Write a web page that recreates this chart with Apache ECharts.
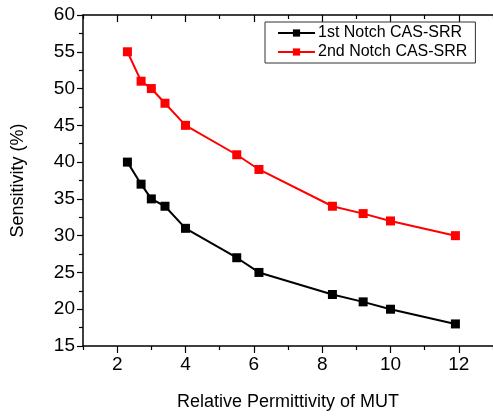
<!DOCTYPE html>
<html>
<head>
<meta charset="utf-8">
<script src="https://cdn.jsdelivr.net/npm/echarts@6/dist/echarts.min.js"></script>
<style>
  html, body { margin: 0; padding: 0; background: #fff; }
  #chart { width: 493px; height: 416px; }
</style>
</head>
<body>
<div id="chart"></div>
<script>
// Relative permittivity of the material under test
var permittivity = [2.3, 2.7, 3.0, 3.4, 4.0, 5.5, 6.15, 8.3, 9.2, 10.0, 11.9];
// Sensitivity (%) for each notch
var notch1 = [40, 37, 35, 34, 31, 27, 25, 22, 21, 20, 18];
var notch2 = [55, 51, 50, 48, 45, 41, 39, 34, 33, 32, 30];
var seriesNames = ['1st Notch CAS-SRR', '2nd Notch CAS-SRR'];
var xTickLabels = [2, 4, 6, 8, 10, 12];

function pairs(xs, ys) {
  return xs.map(function (x, i) { return [x, ys[i]]; });
}

var font = 'Liberation Sans, Arial, sans-serif';
var chart = echarts.init(document.getElementById('chart'));

// The x range starts at 1, so the interval-2 ticks fall on odd values (drawn short)
// and the minor ticks fall on the even, labelled values (drawn long).
function xAxisBase(pos, inside) {
  return {
    type: 'value',
    min: 1, max: 13, interval: 2,
    position: pos,
    axisLine: { show: true, lineStyle: { color: '#000', width: 1.5 } },
    axisTick: { inside: inside, length: 4, lineStyle: { color: '#000', width: 1.2 } },
    minorTick: { show: true, splitNumber: 2, length: 7, lineStyle: { color: '#000', width: 1.2 } },
    splitLine: { show: false }
  };
}

var bottomAxis = xAxisBase('bottom', false);
bottomAxis.name = 'Relative Permittivity of MUT';
bottomAxis.nameLocation = 'middle';
bottomAxis.nameGap = 47;
bottomAxis.nameTextStyle = { fontFamily: font, fontSize: 18, color: '#000' };
bottomAxis.axisLabel = {
  fontFamily: font, fontSize: 19, color: '#000', margin: 9,
  customValues: xTickLabels
};

var topAxis = xAxisBase('top', true);
topAxis.axisLabel = { show: false };

chart.setOption({
  animation: false,
  backgroundColor: '#fff',
  textStyle: { fontFamily: font },
  grid: { left: 83, right: 0, top: 15, bottom: 67, containLabel: false },
  legend: {
    data: seriesNames,
    orient: 'vertical',
    left: 265,
    top: 22,
    itemWidth: 37,
    itemHeight: 9,
    itemGap: 3,
    padding: [3, 8, 3, 12],
    borderColor: '#333',
    borderWidth: 1,
    backgroundColor: '#fff',
    textStyle: { fontFamily: font, fontSize: 16, color: '#000', padding: [0, 0, 0, -2] }
  },
  xAxis: [bottomAxis, topAxis],
  yAxis: {
    type: 'value',
    min: 15, max: 60, interval: 5,
    name: 'Sensitivity (%)',
    nameLocation: 'middle',
    nameGap: 56,
    nameTextStyle: { fontFamily: font, fontSize: 18, color: '#000' },
    axisLine: { show: true, lineStyle: { color: '#000', width: 1.5 } },
    axisTick: { length: 6, lineStyle: { color: '#000', width: 1.2 } },
    minorTick: { show: true, splitNumber: 2, length: 4, lineStyle: { color: '#000', width: 1.2 } },
    axisLabel: { fontFamily: font, fontSize: 19, color: '#000', margin: 8 },
    splitLine: { show: false }
  },
  series: [{
    name: seriesNames[0],
    type: 'line',
    data: pairs(permittivity, notch1),
    symbol: 'rect',
    symbolSize: 9,
    color: '#000',
    lineStyle: { color: '#000', width: 2 },
    itemStyle: { color: '#000' }
  }, {
    name: seriesNames[1],
    type: 'line',
    data: pairs(permittivity, notch2),
    symbol: 'rect',
    symbolSize: 9,
    color: '#ff0000',
    lineStyle: { color: '#ff0000', width: 2 },
    itemStyle: { color: '#ff0000' }
  }]
});
</script>
</body>
</html>
